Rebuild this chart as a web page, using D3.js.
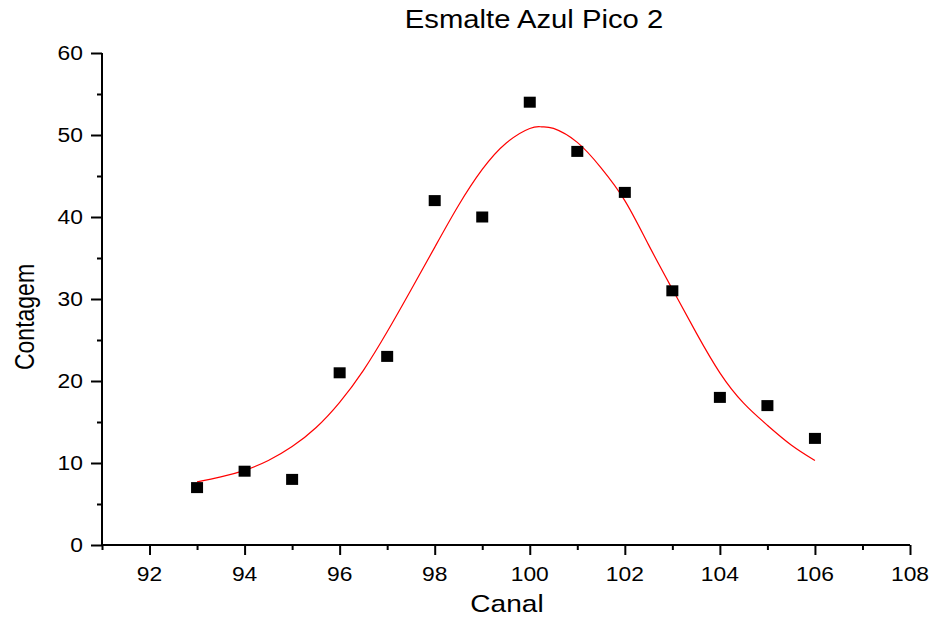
<!DOCTYPE html>
<html>
<head>
<meta charset="utf-8">
<script src="https://cdn.jsdelivr.net/npm/d3@7"></script>
<style>
  body { margin: 0; background: #fff; }
  text { font-family: Arial, "Liberation Sans", sans-serif; fill: #000; }
</style>
</head>
<body>
<svg></svg>
<script>
var width = 930;
var height = 618;
var stretch = 1.17; // the reference text looks widened

// measured counts
var canal = [93, 94, 95, 96, 97, 98, 99, 100, 101, 102, 103, 104, 105, 106];
var contagem = [7, 9, 8, 21, 23, 42, 40, 54, 48, 43, 31, 18, 17, 13];

// fitted curve
var fitX = [93, 93.5, 94, 94.5, 95, 95.5, 96, 96.5, 97, 97.5, 98, 98.5, 99, 99.5, 100, 100.25, 100.5, 101, 101.5, 102, 102.5, 103, 103.5, 104, 104.5, 105, 105.5, 106];
var fitY = [7.7, 8.3, 9.1, 10.3, 12.0, 14.3, 17.4, 21.3, 26.0, 31.1, 36.3, 41.4, 45.8, 49.0, 50.8, 51.0, 50.8, 49.1, 46.0, 42.0, 36.6, 31.2, 25.9, 21.0, 17.3, 14.6, 12.2, 10.3];

var xTicks = [92, 94, 96, 98, 100, 102, 104, 106, 108];
var yTicks = [0, 10, 20, 30, 40, 50, 60];

var x = d3.scaleLinear().domain([91, 108]).range([102, 910]);
var y = d3.scaleLinear().domain([0, 60]).range([545, 53]);

var svg = d3.select("svg")
    .attr("width", width)
    .attr("height", height);

// x axis
var xAxis = svg.append("g")
    .attr("transform", "translate(0,545)")
    .call(d3.axisBottom(x).tickValues(d3.range(91, 109, 1)).tickSize(5).tickFormat(""));
xAxis.selectAll(".tick line")
    .attr("y2", d => d % 2 === 0 ? 10 : 5);
xAxis.select(".domain").attr("d", "M" + x(91) + ",0H" + x(108));
xAxis.selectAll("line, path").attr("stroke", "#000").attr("stroke-width", 2);

xAxis.selectAll(".lbl")
  .data(xTicks)
  .enter()
  .append("text")
    .attr("transform", d => "translate(" + x(d) + ",36) scale(" + stretch + ",1)")
    .style("text-anchor", "middle")
    .style("font-size", "19.5px")
    .text(d => d);

// y axis
var yAxis = svg.append("g")
    .attr("transform", "translate(102,0)")
    .call(d3.axisLeft(y).tickValues(d3.range(0, 61, 5)).tickSize(5).tickFormat(""));
yAxis.selectAll(".tick line")
    .attr("x2", d => d % 10 === 0 ? -11 : -5);
yAxis.select(".domain").attr("d", "M0," + y(0) + "V" + y(60));
yAxis.selectAll("line, path").attr("stroke", "#000").attr("stroke-width", 2);

yAxis.selectAll(".lbl")
  .data(yTicks)
  .enter()
  .append("text")
    .attr("transform", d => "translate(-19," + (y(d) + 7) + ") scale(" + stretch + ",1)")
    .style("text-anchor", "end")
    .style("font-size", "19.5px")
    .text(d => d);

// fit line
var fit = fitX.map((d, i) => [d, fitY[i]]);
var line = d3.line()
    .x(d => x(d[0]))
    .y(d => y(d[1]))
    .curve(d3.curveNatural);

svg.append("path")
    .datum(fit)
    .attr("fill", "none")
    .attr("stroke", "#ff0000")
    .attr("stroke-width", 1.2)
    .attr("d", line);

// points
var sq = 12;
svg.selectAll(".pt")
  .data(canal)
  .enter()
  .append("rect")
    .attr("x", (d, i) => x(d) - sq / 2)
    .attr("y", (d, i) => y(contagem[i]) - 5.5)
    .attr("width", sq)
    .attr("height", 11)
    .attr("fill", "#000");

// titles
svg.append("text")
    .attr("transform", "translate(534,28) scale(" + stretch + ",1)")
    .style("text-anchor", "middle")
    .style("font-size", "25px")
    .text("Esmalte Azul Pico 2");

svg.append("text")
    .attr("transform", "translate(507,612) scale(" + stretch + ",1)")
    .style("text-anchor", "middle")
    .style("font-size", "24px")
    .text("Canal");

svg.append("text")
    .attr("transform", "translate(34,317) scale(" + stretch + ",1) rotate(-90)")
    .style("text-anchor", "middle")
    .style("font-size", "23px")
    .text("Contagem");
</script>
</body>
</html>
